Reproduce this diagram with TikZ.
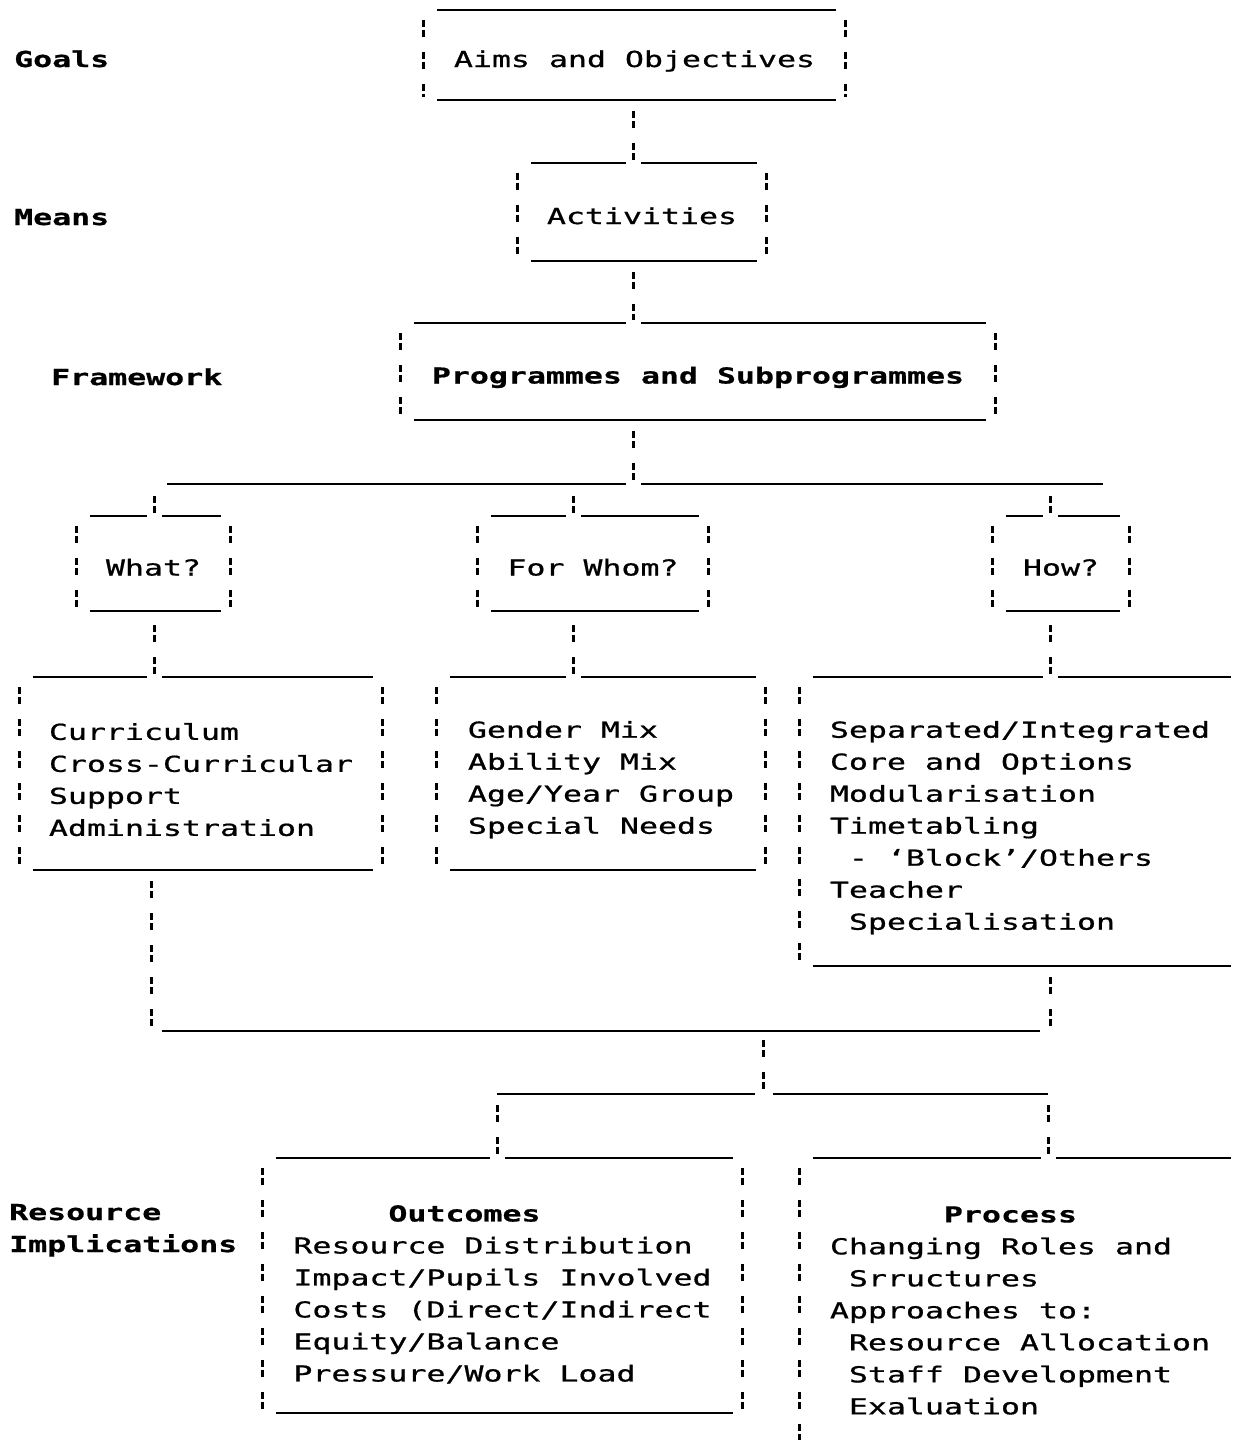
\documentclass[tikz,border=0pt]{standalone}
\usepackage{fontspec}
\usetikzlibrary{calc}
% wide typewriter-like monospace face
\newfontfamily\tw[FakeStretch=1.435, FakeBold=0.8, BoldFeatures={FakeBold=0.6}]{DejaVu Sans Mono}
\newcommand\tsz{\fontsize{22pt}{32pt}\selectfont}
\newcommand\ind{\hphantom{0}}
\newcommand\fl[1][29pt]{\rule{0pt}{#1}}% first-line strut

\tikzset{
  rule/.style={line width=2.3pt},
  bar/.style={line width=3pt, dash pattern=on 7pt off 3pt on 7pt off 15pt},
  link/.style={bar, shorten <=11pt, shorten >=3pt},
  tbox/.style={rectangle, inner sep=0pt, font=\tw\tsz, align=center,
    text height=28pt, text depth=4pt},
  lbox/.style={rectangle, inner xsep=2pt, inner ysep=0pt, font=\tw\tsz, align=left},
  lab/.style={anchor=base west, inner sep=0pt, font=\tw\tsz\bfseries},
}

% frame pieces of a typed box
\newcommand\lside[1]{\draw[bar] ($(#1.north west)+(0,10)$) -- ($(#1.south west)+(0,-3)$);}
\newcommand\rside[1]{\draw[bar] ($(#1.north east)+(0,10)$) -- ($(#1.south east)+(0,-3)$);}
\newcommand\bbot[1]{\draw[rule] ($(#1.south west)+(13,0)$) -- ($(#1.south east)+(-9,0)$);}
\newcommand\btop[2]{%
  \draw[rule] ($(#1.north west)+(13,0)$) -- ($(#1.north -| #2)+(-7,0)$);
  \draw[rule] ($(#1.north -| #2)+(8,0)$) -- ($(#1.north east)+(-9,0)$);}

\begin{document}
\begin{tikzpicture}[x=1pt,y=-1pt]
\useasboundingbox (0,0) rectangle (1239,1445);
\fill[white] (0,0) rectangle (1239,1445);

% junction points of the links
\coordinate (c1)   at (633,0);
\coordinate (hub1) at (633,484);
\coordinate (barL) at (167,484);
\coordinate (barR) at (1103,484);
\coordinate (dW)   at (154,484);
\coordinate (dF)   at (573,484);
\coordinate (dH)   at (1050,484);
\coordinate (lbL)  at (151,1031);
\coordinate (lbR)  at (1050,1031);
\coordinate (hub2) at (763,1031);
\coordinate (hub3) at (763,1094);
\coordinate (b2L)  at (497,1094);
\coordinate (b2R)  at (1048,1094);

% row labels
\node[lab] (goals) at (14,67)   {Goals};
\node[lab] (means) at (14,225)  {Means};
\node[lab] (frame) at (51,385)  {Framework};
\node[lab] (res1)  at (9,1220)  {Resource};
\node[lab] (res2)  at (9,1252)  {Implications};

% boxes
\node[tbox, minimum width=421pt, minimum height=90pt] (aims) at (634.5,55) {Aims and Objectives};
\node[tbox, minimum width=248pt, minimum height=98pt] (act) at (642,212) {Activities};
\node[tbox, minimum width=594pt, minimum height=97pt, font=\tw\tsz\bfseries] (prog) at (698,371.5) {Programmes and Subprogrammes};
\node[tbox, minimum width=153pt, minimum height=95pt] (what) at (153.5,563.5) {What?};
\node[tbox, minimum width=230pt, minimum height=95pt] (whom) at (593,563.5) {For Whom?};
\node[tbox, minimum width=136pt, minimum height=95pt] (how) at (1061,563.5) {How?};

\node[lbox, minimum width=362pt, minimum height=193pt] (curr) at (201,773.5)
  {\fl Curriculum\\Cross-Curricular\\Support\\Administration};
\node[lbox, minimum width=328pt, minimum height=193pt] (mix) at (601,773.5)
  {\fl Gender Mix\\Ability Mix\\Age/Year Group\\Special Needs};
\node[lbox, minimum width=440pt, minimum height=289pt] (meth) at (1020,821.5)
  {\fl Separated/Integrated\\Core and Options\\Modularisation\\Timetabling\\
   \ind- ‘Block’/Others\\Teacher\\\ind Specialisation};
\node[lbox, minimum width=479pt, minimum height=255pt] (outc) at (502.5,1285.5)
  {\fl[34pt]\hphantom{00000}{\bfseries Outcomes}\\Resource Distribution\\Impact/Pupils Involved\\
   Costs (Direct/Indirect\\Equity/Balance\\Pressure/Work Load};
\node[lbox, minimum width=440pt, minimum height=292pt] (proc) at (1020,1304)
  {\fl\hphantom{000000}{\bfseries Process}\\Changing Roles and\\\ind Srructures\\
   Approaches to:\\\ind Resource Allocation\\\ind Staff Development\\\ind Exaluation};

% frames
\draw[rule] ($(aims.north west)+(13,0)$) -- ($(aims.north east)+(-9,0)$);
\lside{aims}\rside{aims}\bbot{aims}
\btop{act}{c1}\lside{act}\rside{act}\bbot{act}
\btop{prog}{c1}\lside{prog}\rside{prog}\bbot{prog}
\btop{what}{dW}\lside{what}\rside{what}\bbot{what}
\btop{whom}{dF}\lside{whom}\rside{whom}\bbot{whom}
\btop{how}{dH}\lside{how}\rside{how}\bbot{how}
\btop{curr}{dW}\lside{curr}\rside{curr}\bbot{curr}
\btop{mix}{dF}\lside{mix}\rside{mix}\bbot{mix}
\btop{meth}{dH}\lside{meth}\bbot{meth}
\btop{outc}{b2L}\lside{outc}\rside{outc}\bbot{outc}
\btop{proc}{b2R}
\draw[bar] ($(proc.north west)+(0,10)$) -- ($(proc.south west)+(0,-10)$);

% links
\draw[link] (aims.south -| c1) -- (act.north -| c1);
\draw[link] (act.south -| c1) -- (prog.north -| c1);
\draw[link, shorten >=4pt] (prog.south -| hub1) -- (hub1);
\draw[rule] (barL) -- ($(hub1)+(-7,0)$);
\draw[rule] ($(hub1)+(8,0)$) -- (barR);
\draw[link, shorten <=12pt] (dW) -- (what.north -| dW);
\draw[link, shorten <=12pt] (dF) -- (whom.north -| dF);
\draw[link, shorten <=12pt] (dH) -- (how.north -| dH);
\draw[link, shorten <=14pt] (what.south -| dW) -- (curr.north -| dW);
\draw[link, shorten <=14pt] (whom.south -| dF) -- (mix.north -| dF);
\draw[link, shorten <=14pt] (how.south -| dH) -- (meth.north -| dH);
\draw[link, shorten >=1pt] (curr.south -| lbL) -- (lbL);
\draw[link, shorten >=1pt] (meth.south -| lbR) -- (lbR);
\draw[rule] ($(lbL)+(11,0)$) -- ($(lbR)+(-10,0)$);
\draw[link, shorten <=9pt, shorten >=4pt] (hub2) -- (hub3);
\draw[rule] (b2L) -- ($(hub3)+(-8,0)$);
\draw[rule] ($(hub3)+(10,0)$) -- (b2R);
\draw[link] (b2L) -- (outc.north -| b2L);
\draw[link] (b2R) -- (proc.north -| b2R);
\end{tikzpicture}
\end{document}
